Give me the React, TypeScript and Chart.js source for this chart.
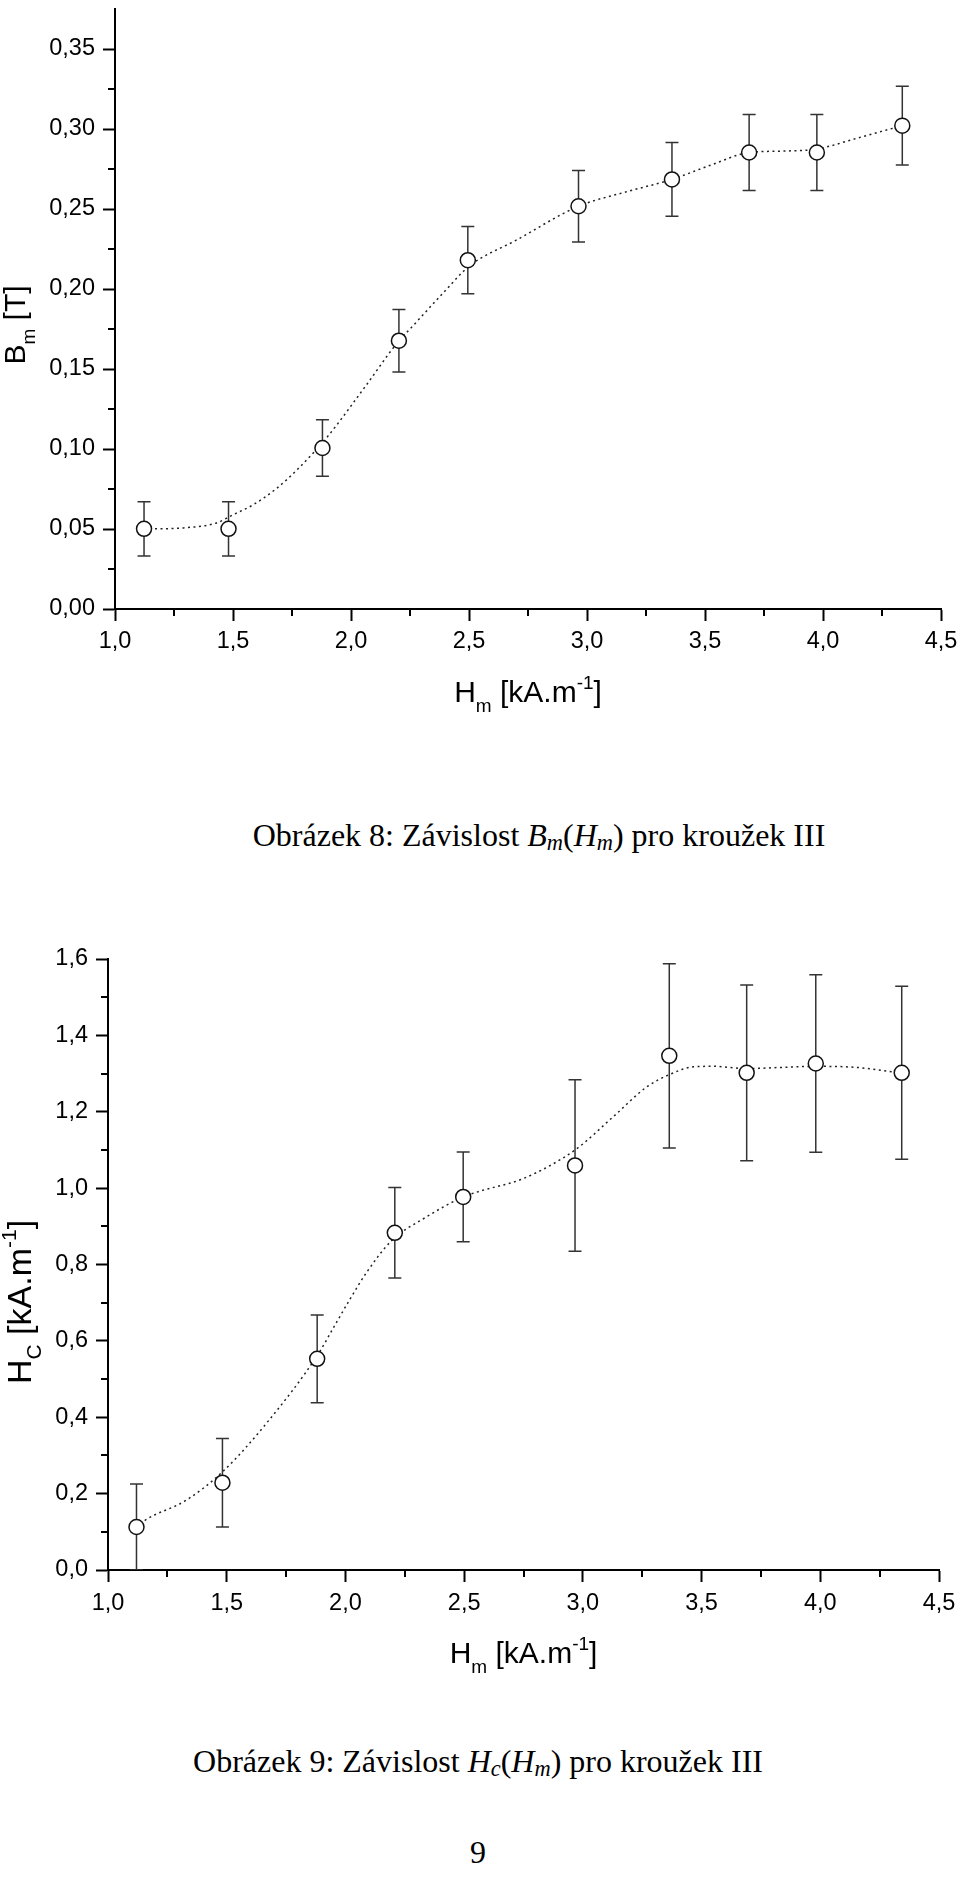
import React, { useEffect, useRef } from "react";
import { Chart, registerables } from "chart.js";
Chart.register(...registerables);

// ---------- Data: Obrázek 8, B_m(H_m) ----------
const hm8 = [1.123, 1.481, 1.879, 2.203, 2.495, 2.964, 3.36, 3.687, 3.974, 4.336];
const bm8 = [0.0501, 0.0501, 0.1006, 0.1677, 0.218, 0.2517, 0.2685, 0.2853, 0.2853, 0.3021];
const bmErr8 = [0.017, 0.017, 0.0177, 0.0195, 0.021, 0.0223, 0.023, 0.0237, 0.0237, 0.0246];
const fitX8 = [1.123, 1.29, 1.43, 1.5, 1.585, 1.684, 1.783, 1.903, 2.065, 2.192, 2.275, 2.4, 2.5, 2.7, 2.964, 3.16, 3.36, 3.52, 3.687, 3.83, 3.974, 4.15, 4.336];
const fitY8 = [0.05, 0.0507, 0.0538, 0.0589, 0.0651, 0.0753, 0.0887, 0.1082, 0.14, 0.1656, 0.179, 0.199, 0.2142, 0.2305, 0.2517, 0.2605, 0.2685, 0.2772, 0.2853, 0.2862, 0.2875, 0.2945, 0.3021];

// ---------- Data: Obrázek 9, H_c(H_m) ----------
const hm9 = [1.12, 1.482, 1.881, 2.208, 2.496, 2.967, 3.364, 3.69, 3.981, 4.343];
const hc9 = [0.1126, 0.2286, 0.553, 0.883, 0.977, 1.0594, 1.3464, 1.302, 1.3264, 1.302];
const hcErr9 = [0.1126, 0.116, 0.115, 0.1186, 0.1175, 0.2245, 0.241, 0.23, 0.2325, 0.2265];
const fitX9 = [1.12, 1.147, 1.33, 1.482, 1.667, 1.885, 1.95, 2.02, 2.09, 2.194, 2.342, 2.496, 2.566, 2.749, 2.967, 3.128, 3.269, 3.367, 3.465, 3.55, 3.69, 3.83, 3.978, 4.154, 4.308, 4.343];
const fitY9 = [0.11, 0.126, 0.183, 0.257, 0.384, 0.565, 0.635, 0.71, 0.78, 0.862, 0.925, 0.977, 0.992, 1.025, 1.1, 1.187, 1.265, 1.298, 1.3176, 1.319, 1.313, 1.316, 1.319, 1.316, 1.3045, 1.302];

// ---------- Axis ticks ----------
const xMin = 1.0, xMax = 4.5, xStep = 0.5;
const yMax8 = 0.375, yStep8 = 0.05, yDec8 = 2;
const yMax9 = 1.6, yStep9 = 0.2, yDec9 = 1;

type Part = { t: string; s: number; dy: number };
const SANS = '"Liberation Sans", Arial, sans-serif';

const xTitleParts: Part[] = [
  { t: "H", s: 30, dy: 0 },
  { t: "m", s: 19, dy: 10 },
  { t: " [kA.m", s: 30, dy: 0 },
  { t: "-1", s: 19, dy: -13 },
  { t: "]", s: 30, dy: 0 },
];
const yTitle8: Part[] = [
  { t: "B", s: 30, dy: 0 },
  { t: "m", s: 19, dy: 10 },
  { t: " [T]", s: 30, dy: 0 },
];
const yTitle9: Part[] = [
  { t: "H", s: 34, dy: 0 },
  { t: "C", s: 21, dy: 10 },
  { t: " [kA.m", s: 34, dy: 0 },
  { t: "-1", s: 21, dy: -15 },
  { t: "]", s: 34, dy: 0 },
];

function drawParts(ctx: CanvasRenderingContext2D, parts: Part[]) {
  let w = 0;
  for (const p of parts) {
    ctx.font = `${p.s}px ${SANS}`;
    w += ctx.measureText(p.t).width;
  }
  let x = -w / 2;
  ctx.textAlign = "left";
  ctx.textBaseline = "alphabetic";
  ctx.fillStyle = "#000";
  for (const p of parts) {
    ctx.font = `${p.s}px ${SANS}`;
    ctx.fillText(p.t, x, p.dy);
    x += ctx.measureText(p.t).width;
  }
}

type Cfg = {
  top: number;
  height: number;
  padTop: number;
  axisLeft: number;
  axisRight: number;
  axisBottomPage: number;
  xs: number[];
  ys: number[];
  errs: number[];
  fitX: number[];
  fitY: number[];
  yMax: number;
  yStep: number;
  yDec: number;
  yTitle: Part[];
  xTitleBase: number;
  yTitleX: number;
  yTitleCenter: number;
  xLabelPad: number;
};

function Plot({ cfg }: { cfg: Cfg }) {
  const ref = useRef<HTMLCanvasElement | null>(null);
  useEffect(() => {
    const canvas = ref.current!;
    const xAxisH = cfg.top + cfg.height - cfg.axisBottomPage;
    const decor = {
      id: "decor",
      beforeDatasetDraw(chart: any, args: any) {
        if (args.index !== 0) return;
        const { ctx, chartArea, scales } = chart;
        const x = scales.x, y = scales.y;
        ctx.save();
        ctx.beginPath();
        ctx.rect(chartArea.left, chartArea.top, chartArea.right - chartArea.left, chartArea.bottom - chartArea.top);
        ctx.clip();
        ctx.strokeStyle = "#333";
        ctx.lineWidth = 1.5;
        cfg.xs.forEach((xv, i) => {
          const px = x.getPixelForValue(xv);
          const t = y.getPixelForValue(cfg.ys[i] + cfg.errs[i]);
          const b = y.getPixelForValue(cfg.ys[i] - cfg.errs[i]);
          ctx.beginPath();
          ctx.moveTo(px, t);
          ctx.lineTo(px, b);
          ctx.moveTo(px - 6.5, t);
          ctx.lineTo(px + 6.5, t);
          ctx.moveTo(px - 6.5, b);
          ctx.lineTo(px + 6.5, b);
          ctx.stroke();
        });
        ctx.restore();
      },
      afterDraw(chart: any) {
        const { ctx, chartArea, scales } = chart;
        const x = scales.x, y = scales.y;
        ctx.save();
        ctx.strokeStyle = "#000";
        ctx.lineWidth = 2;
        ctx.beginPath();
        for (let v = xMin + xStep / 2; v < xMax; v += xStep) {
          const px = Math.round(x.getPixelForValue(v));
          ctx.moveTo(px, chartArea.bottom);
          ctx.lineTo(px, chartArea.bottom + 7);
        }
        for (let v = cfg.yStep / 2; v < cfg.yMax - 1e-9; v += cfg.yStep) {
          const py = Math.round(y.getPixelForValue(v));
          ctx.moveTo(chartArea.left, py);
          ctx.lineTo(chartArea.left - 7, py);
        }
        ctx.stroke();
        ctx.save();
        ctx.translate((chartArea.left + chartArea.right) / 2, cfg.xTitleBase - cfg.top);
        drawParts(ctx, xTitleParts);
        ctx.restore();
        ctx.save();
        ctx.translate(cfg.yTitleX, cfg.yTitleCenter - cfg.top);
        ctx.rotate(-Math.PI / 2);
        drawParts(ctx, cfg.yTitle);
        ctx.restore();
        ctx.restore();
      },
    };

    const chart = new Chart(canvas, {
      type: "line",
      data: {
        datasets: [
          {
            label: "data",
            data: cfg.xs.map((v, i) => ({ x: v, y: cfg.ys[i] })),
            showLine: false,
            pointRadius: 7.5,
            pointBorderWidth: 1.5,
            pointBorderColor: "#111",
            pointBackgroundColor: "#fff",
            order: 0,
          } as any,
          {
            label: "fit",
            data: cfg.fitX.map((v, i) => ({ x: v, y: cfg.fitY[i] })),
            pointRadius: 0,
            borderColor: "#222",
            borderWidth: 1.5,
            borderDash: [2, 3.5],
            cubicInterpolationMode: "monotone",
            fill: false,
            order: 1,
          } as any,
        ],
      },
      options: {
        responsive: false,
        animation: false,
        devicePixelRatio: 1,
        layout: { padding: { top: cfg.padTop, right: 960 - cfg.axisRight, bottom: 0, left: 0 } },
        plugins: { legend: { display: false }, tooltip: { enabled: false } },
        events: [],
        scales: {
          x: {
            type: "linear",
            min: xMin,
            max: xMax,
            border: { display: true, color: "#000", width: 2 },
            grid: { drawOnChartArea: false, drawTicks: true, tickLength: 12, tickColor: "#000", tickWidth: 2 },
            ticks: {
              stepSize: xStep,
              includeBounds: false,
              padding: cfg.xLabelPad,
              color: "#000",
              font: { family: SANS, size: 23.5 },
              maxRotation: 0,
              autoSkip: false,
              callback: (v: any) => Number(v).toFixed(1).replace(".", ","),
            },
            afterFit: (s: any) => {
              s.height = xAxisH;
              s.paddingLeft = 0;
              s.paddingRight = 0;
            },
          },
          y: {
            type: "linear",
            min: 0,
            max: cfg.yMax,
            border: { display: true, color: "#000", width: 2 },
            grid: { drawOnChartArea: false, drawTicks: true, tickLength: 12, tickColor: "#000", tickWidth: 2 },
            ticks: {
              stepSize: cfg.yStep,
              includeBounds: false,
              padding: 8,
              color: "#000",
              font: { family: SANS, size: 23.5 },
              autoSkip: false,
              callback: (v: any) => Number(v).toFixed(cfg.yDec).replace(".", ","),
            },
            afterFit: (s: any) => {
              s.width = cfg.axisLeft;
              s.paddingTop = 0;
              s.paddingBottom = 0;
            },
          },
        },
      } as any,
      plugins: [decor as any],
    });
    return () => chart.destroy();
  }, [cfg]);
  return (
    <canvas
      ref={ref}
      width={960}
      height={cfg.height}
      style={{ position: "absolute", left: 0, top: cfg.top, width: 960, height: cfg.height }}
    />
  );
}

const cfg8: Cfg = {
  top: 0,
  height: 730,
  padTop: 0,
  axisLeft: 115,
  axisRight: 941,
  axisBottomPage: 609,
  xs: hm8,
  ys: bm8,
  errs: bmErr8,
  fitX: fitX8,
  fitY: fitY8,
  yMax: yMax8,
  yStep: yStep8,
  yDec: yDec8,
  yTitle: yTitle8,
  xTitleBase: 702,
  yTitleX: 25,
  yTitleCenter: 325,
  xLabelPad: 6,
};

const cfg9: Cfg = {
  top: 900,
  height: 800,
  padTop: 59,
  axisLeft: 108,
  axisRight: 939,
  axisBottomPage: 1570,
  xs: hm9,
  ys: hc9,
  errs: hcErr9,
  fitX: fitX9,
  fitY: fitY9,
  yMax: yMax9,
  yStep: yStep9,
  yDec: yDec9,
  yTitle: yTitle9,
  xTitleBase: 1663,
  yTitleX: 31,
  yTitleCenter: 1302,
  xLabelPad: 7,
};

const capStyle = (cx: number, cy: number): React.CSSProperties => ({
  position: "absolute",
  left: cx,
  top: cy,
  transform: "translate(-50%, -50%)",
  fontFamily: '"Liberation Serif", "Times New Roman", serif',
  fontSize: 32,
  lineHeight: 1,
  whiteSpace: "nowrap",
  color: "#000",
});
const subStyle: React.CSSProperties = { fontSize: "0.7em", verticalAlign: "-0.2em", fontStyle: "italic", lineHeight: 0 };

export default function App() {
  return (
    <div style={{ position: "absolute", left: 0, top: 0, width: 960, height: 1899, background: "#fff", overflow: "hidden" }}>
      <Plot cfg={cfg8} />
      <div style={capStyle(539, 835)}>
        Obrázek 8: Závislost <i>B</i>
        <span style={subStyle}>m</span>(<i>H</i>
        <span style={subStyle}>m</span>) pro kroužek III
      </div>
      <Plot cfg={cfg9} />
      <div style={capStyle(478, 1761)}>
        Obrázek 9: Závislost <i>H</i>
        <span style={subStyle}>c</span>(<i>H</i>
        <span style={subStyle}>m</span>) pro kroužek III
      </div>
      <div style={capStyle(478, 1852)}>9</div>
    </div>
  );
}
